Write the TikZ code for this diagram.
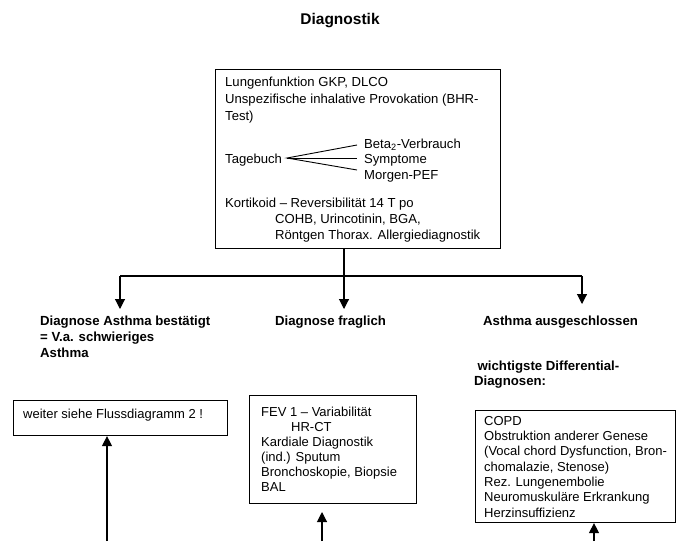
\documentclass[tikz,border=0pt]{standalone}
\usepackage{fontspec}
\setmainfont{Liberation Sans}
\usetikzlibrary{arrows.meta}
\begin{document}
\begin{tikzpicture}[x=1pt,y=-1pt,
  frame/.style={draw=black, line width=1.1pt, inner sep=0pt, anchor=north west},
  maintxt/.style={inner sep=0pt, anchor=base west, font=\fontsize{13.1}{16}\selectfont},
  boxtxt/.style={inner sep=0pt, anchor=north west, align=left, font=\fontsize{13}{#1}\selectfont},
  lab/.style={inner sep=0pt, anchor=north west, align=left, font=\fontsize{13.2}{16}\selectfont\bfseries},
  conn/.style={draw=black, line width=1.1pt},
  arr/.style={conn, -{Triangle[width=10pt,length=10pt]}},
  fan/.style={draw=black, line width=0.9pt}]
\useasboundingbox (0,0) rectangle (679,541);

% title
\node[inner sep=0pt, anchor=base, font=\fontsize{15.5}{18}\selectfont\bfseries] (title) at (340,24) {Diagnostik};

% main box
\node[frame, minimum width=285pt, minimum height=179pt] (main) at (215,69) {};
\node[maintxt] (l1) at (225,86) {Lungenfunktion GKP, DLCO};
\node[maintxt] (l2) at (225,103) {Unspezifische inhalative Provokation (BHR-};
\node[maintxt] (l3) at (225,120) {Test)};
\node[maintxt] (tb) at (225,163) {Tagebuch};
\node[maintxt] (b1) at (364,148) {Beta\textsubscript{2}-Verbrauch};
\node[maintxt] (b2) at (364,163) {Symptome};
\node[maintxt] (b3) at (364,179) {Morgen-PEF};
\node[maintxt] (k1) at (225,207) {Kortikoid – Reversibilität 14 T po};
\node[maintxt] (k2) at (275,223) {COHB, Urincotinin, BGA,};
\node[maintxt] (k3) at (275,239) {Röntgen Thorax. Allergiediagnostik};

\coordinate (fo) at (287,158);
\coordinate (f1) at (357,145);
\coordinate (f2) at (357,158);
\coordinate (f3) at (357,170);
\draw[fan] (f1) -- (fo) -- (f3);
\draw[fan] (fo) -- (f2);

% branching
\coordinate (jm) at (344,276);
\coordinate (jl) at (120,276);
\coordinate (jr) at (582,276);
\coordinate (tl) at (120,309);
\coordinate (tm) at (344,309);
\coordinate (tr) at (582,304);
\draw[conn] (main.south -| jm) -- (jm);
\draw[conn] (jl) -- (jr);
\draw[arr] (jl) -- (tl);
\draw[arr] (jm) -- (tm);
\draw[arr] (jr) -- (tr);

% labels
\node[lab] (lab1) at (40,313.8) {\strut Diagnose Asthma bestätigt\\= V.a. schwieriges\\Asthma};
\node[lab] (lab2) at (275,313.8) {\strut Diagnose fraglich};
\node[lab] (lab3) at (483,313.8) {\strut Asthma ausgeschlossen};
\node[lab, font=\fontsize{13.2}{15.5}\selectfont\bfseries] (lab4) at (474,359.2) {\strut\hspace*{3.5pt}wichtigste Differential-\\Diagnosen:};

% lower boxes
\node[frame, minimum width=214pt, minimum height=35pt] (bl) at (13,400) {};
\node[boxtxt=14.5] (blt) at (23,407.85) {\strut weiter siehe Flussdiagramm 2 !};

\node[frame, minimum width=167pt, minimum height=108pt] (bm) at (249,395) {};
\node[boxtxt=15] (bmt) at (261,405.5) {\strut FEV 1 – Variabilität\\\hspace*{30pt}HR-CT\\Kardiale Diagnostik\\(ind.) Sputum\\Bronchoskopie, Biopsie\\BAL};

\node[frame, minimum width=200pt, minimum height=112pt] (br) at (475,410) {};
\node[boxtxt=15.3] (brt) at (484,414.3) {\strut COPD\\Obstruktion anderer Genese\\(Vocal chord Dysfunction, Bron-\\chomalazie, Stenose)\\Rez. Lungenembolie\\Neuromuskuläre Erkrankung\\Herzinsuffizienz};

% bottom arrows
\coordinate (sl) at (107,541);
\coordinate (sm) at (322,541);
\coordinate (sr) at (594,541);
\coordinate (em) at (322,512);
\draw[arr] (sl) -- (sl |- bl.south);
\draw[arr] (sm) -- (em);
\draw[arr] (sr) -- (sr |- br.south);
\end{tikzpicture}
\end{document}
